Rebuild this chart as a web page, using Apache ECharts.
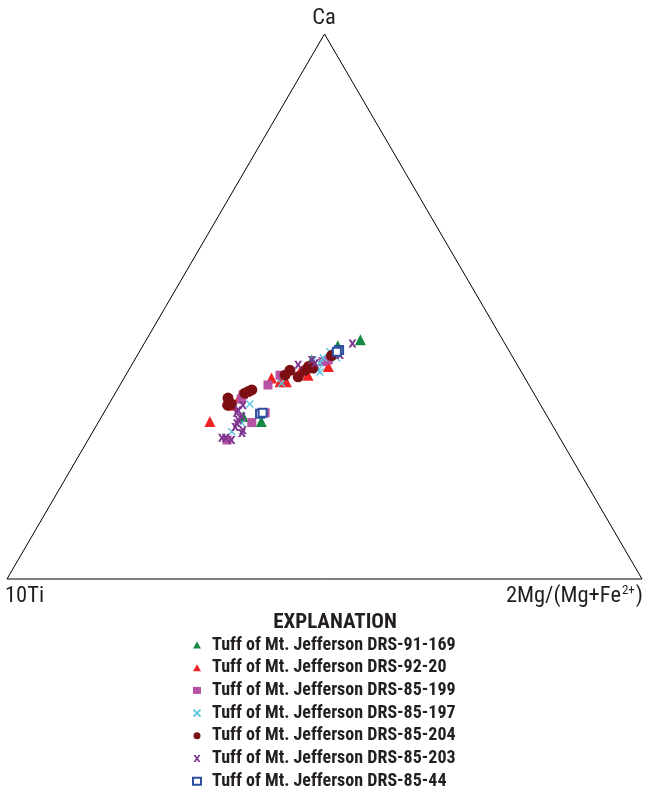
<!DOCTYPE html>
<html><head><meta charset="utf-8">
<script src="https://cdn.jsdelivr.net/npm/echarts@6/dist/echarts.min.js"></script>
<style>html,body{margin:0;padding:0;background:#fff}#c{width:645px;height:793px}</style>
</head><body><div id="c"></div>
<script>
// Ternary values as [Ca, 10Ti, 2Mg/(Mg+Fe2+)] in percent
const vertexLabels = ['Ca', '10Ti', '2Mg/(Mg+Fe²⁺)'];
const seriesNames = [
  'Tuff of Mt. Jefferson DRS-91-169',
  'Tuff of Mt. Jefferson DRS-92-20',
  'Tuff of Mt. Jefferson DRS-85-199',
  'Tuff of Mt. Jefferson DRS-85-197',
  'Tuff of Mt. Jefferson DRS-85-204',
  'Tuff of Mt. Jefferson DRS-85-203',
  'Tuff of Mt. Jefferson DRS-85-44'
];
const drs91_169 = [[43.9,22.4,33.7],[42.8,26.5,30.7],[40.2,31.9,27.9],[29.8,47.9,22.3],[28.9,45.5,25.6]];
const drs92_20 = [[28.9,53.6,17.5],[31.9,48.5,19.6],[33.5,46.6,19.9],[36.9,39.9,23.2],[36.2,38.9,24.9],[36.2,37.9,25.9],[37.4,33.9,28.7],[39.0,29.9,31.1],[38.0,34.9,27.1]];
const drs85_199 = [[33.8,45.9,20.3],[35.6,41.1,23.3],[28.7,47.1,24.2],[30.5,44.1,25.4],[37.4,38.3,24.3],[39.9,30.3,29.8],[40.2,29.3,30.5],[25.5,52.6,21.9],[33.0,46.6,20.4]];
const drs85_197 = [[32.1,45.7,22.2],[27.0,51.1,21.9],[28.6,48.7,22.7],[40.6,29.9,29.5],[39.6,30.9,29.5],[39.0,31.7,29.3],[38.0,31.7,30.3],[40.2,31.7,28.1],[40.6,27.8,31.6],[35.9,38.8,25.3],[38.3,31.9,29.8],[41.7,28.3,30.0]];
const drs85_204 = [[33.2,48.6,18.2],[31.9,49.3,18.8],[32.1,48.6,19.3],[34.1,45.5,20.4],[34.4,44.8,20.8],[34.7,44.1,21.2],[41.0,28.4,30.6],[39.0,33.0,28.0],[38.3,33.9,27.8],[37.1,35.6,27.3],[38.3,36.3,25.4],[37.4,37.5,25.1],[38.7,32.5,28.8]];
const drs85_203 = [[43.2,24.0,32.8],[41.1,27.0,31.9],[39.3,34.5,26.2],[40.2,31.9,27.9],[39.6,31.7,28.7],[30.5,48.6,20.9],[31.0,48.1,20.9],[31.9,46.9,21.2],[29.8,48.1,22.1],[28.6,49.5,21.9],[27.9,50.1,22.0],[27.3,49.2,23.5],[25.9,53.2,20.9],[25.5,51.9,22.6],[26.8,49.6,23.6],[29.2,49.0,21.8],[25.9,52.6,21.5]];
const drs85_44 = [[42.0,26.7,31.3],[41.7,27.2,31.1],[30.3,45.0,24.7],[30.5,44.5,25.0]];

// Triangle outline vertices (ternary)
const outline = [[0,100,0],[0,0,100],[100,0,0],[0,100,0]];

function toXY(p){ const s=p[0]+p[1]+p[2]; const ca=p[0]/s*100, mg=p[2]/s*100; return [mg+ca/2, ca]; }

const FONT = '"Liberation Sans Narrow", "Roboto Condensed", "Arial Narrow", sans-serif';
const xPath = 'path://M0,0L10,10M10,0L0,10';
const bowX = 'path://M0,0L3,0L5,3.2L7,0L10,0L6.6,5L10,10L7,10L5,6.8L3,10L0,10L3.4,5Z';

const styles = [
  {symbol:'triangle', size:11, itemStyle:{color:'#168a45', opacity:1}},
  {symbol:'triangle', size:11, itemStyle:{color:'#ef2323', opacity:1}},
  {symbol:'rect', size:9, itemStyle:{color:'#b651a3', opacity:1}},
  {symbol:xPath, size:7, itemStyle:{color:'#5cc6e2', borderColor:'#5cc6e2', borderWidth:1.4, opacity:1}},
  {symbol:'circle', size:11, itemStyle:{color:'#7c0f14', opacity:1}},
  {symbol:bowX, size:8, itemStyle:{color:'#7d3590', opacity:1}},
  {symbol:'emptyRect', size:8, itemStyle:{color:'#2d4fa0', borderWidth:1.6, opacity:1}}
];
const datasets = [drs91_169, drs92_20, drs85_199, drs85_197, drs85_204, drs85_203, drs85_44];

const series = [{
  type:'line', data: outline.map(toXY), symbol:'none', silent:true, clip:false,
  lineStyle:{color:'#000', width:1}, legendHoverLink:false, z:1
}];
datasets.forEach((d,i)=>{
  series.push({
    name: seriesNames[i], type:'scatter', data: d.map(toXY),
    symbol: styles[i].symbol, symbolSize: styles[i].size,
    itemStyle: styles[i].itemStyle, z:2+i
  });
});

const chart = echarts.init(document.getElementById('c'), null, {renderer:'canvas'});
chart.setOption({
  animation:false,
  backgroundColor:'#fff',
  grid:{left:7, right:3, top:34, bottom:214},
  xAxis:{type:'value', min:0, max:100, show:false},
  yAxis:{type:'value', min:0, max:100, show:false},
  legend:{
    orient:'vertical', left:192, top:636, height:160, padding:0, itemGap:4.7, itemWidth:8, itemHeight:7,
    data: seriesNames,
    textStyle:{fontFamily:FONT, fontWeight:'bold', fontSize:18, color:'#231f20', padding:[0,0,0,6]}
  },
  graphic:[
    {type:'text', x:335, y:622.5, style:{text:'EXPLANATION', font:'bold 21px '+FONT, fill:'#231f20', textAlign:'center', textVerticalAlign:'middle'}},
    {type:'text', x:324, y:18, style:{text:vertexLabels[0], font:'22.5px '+FONT, fill:'#231f20', textAlign:'center', textVerticalAlign:'middle'}},
    {type:'text', x:5, y:596, style:{text:vertexLabels[1], font:'22.5px '+FONT, fill:'#231f20', textAlign:'left', textVerticalAlign:'middle'}},
    {type:'text', x:643, y:596, style:{
      text:'{a|2Mg/(Mg+Fe}{s|2+}{a|)}', textAlign:'right', textVerticalAlign:'middle', fill:'#231f20',
      rich:{a:{font:'22.5px '+FONT, fill:'#231f20'}, s:{font:'13px '+FONT, fill:'#231f20', verticalAlign:'top', padding:[0,1,9,1]}}
    }}
  ],
  series: series
});
</script></body></html>
